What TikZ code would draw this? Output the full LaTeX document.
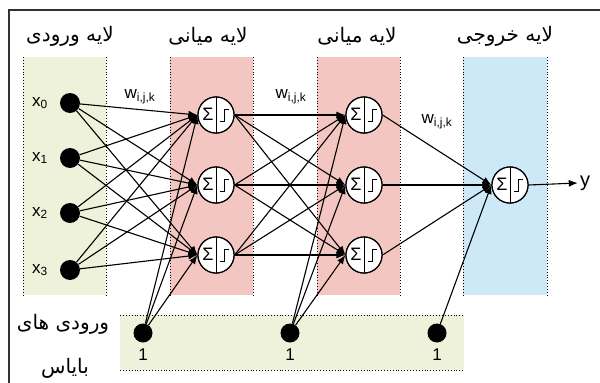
\documentclass[tikz,border=0pt]{standalone}
\usepackage{fontspec}
\setmainfont{Liberation Sans}
\newfontfamily\fa[Script=Arabic]{DejaVu Sans}
\TeXXeTstate=1
\usetikzlibrary{arrows.meta}
\definecolor{ingreen}{RGB}{238,242,218}
\definecolor{hidpink}{RGB}{244,198,194}
\definecolor{outblue}{RGB}{205,232,247}
\definecolor{framegray}{RGB}{50,50,50}
\begin{document}
\begin{tikzpicture}[x=1pt,y=-1pt,
  neuron/.style={circle,draw,fill=white,line width=1.2pt,minimum size=36pt,inner sep=0pt,
    path picture={
      \draw[line width=1pt] (path picture bounding box.north) -- (path picture bounding box.south);
      \node[font=\fontsize{18}{18}\selectfont,inner sep=0pt] at ([xshift=-8pt,yshift=0.5pt]path picture bounding box.center) {Σ};
      \draw[line width=1pt] ([shift={(4,6)}]path picture bounding box.center) -- ++(4,0) -- ++(0,-12) -- ++(4.5,0);
    }},
  dot/.style={circle,fill=black,minimum size=20pt,inner sep=0pt},
  conn/.style={line width=1.1pt,-{Latex[length=9pt,width=7pt]}},
  lbl/.style={font=\fontsize{17}{17}\selectfont,inner sep=1pt},
  title/.style={font=\fa\fontsize{20}{20}\selectfont,inner sep=0pt},
  col/.style={dotted,line width=0.9pt}
]
\useasboundingbox (0,0) rectangle (600,383);
% frame
\draw[framegray,line width=1.8pt] (9,383) -- (9,10) -- (600,10);
% columns
\fill[ingreen] (23,57) rectangle (106,295);
\fill[hidpink] (170,57) rectangle (253,295);
\fill[hidpink] (317,57) rectangle (400,295);
\fill[outblue] (463,57) rectangle (547,295);
\fill[ingreen] (120,315) rectangle (464,370);
\foreach \x in {23,106,170,253,317,400,463,547} \draw[col] (\x,57) -- (\x,295);
\draw[col] (120,315) -- (464,315);
\draw[col] (120,370) -- (464,370);
% titles
\node[title] (t1) at (70,36) {\beginR لایه ورودی\endR};
\node[title] (t2) at (208,36) {\beginR لایه میانی\endR};
\node[title] (t3) at (357,36) {\beginR لایه میانی\endR};
\node[title] (t4) at (505,36) {\beginR لایه خروجی\endR};
\node[title] (bt1) at (63,324) {\beginR ورودی های\endR};
\node[title] (bt2) at (65,368) {\beginR بایاس\endR};
% inputs
\foreach \i/\y in {0/103,1/158,2/213,3/270}{
  \node[dot] (i\i) at (70,\y) {};
  \node[lbl] (xl\i) at (40,\y) {x\textsubscript{\i}};
}
% hidden
\foreach \j/\y in {0/115,1/185,2/255}{
  \node[neuron] (h1\j) at (216,\y) {};
  \node[neuron] (h2\j) at (364,\y) {};
}
\node[neuron] (o) at (510,185) {};
% bias
\foreach \k/\x in {1/143,2/290,3/437}{
  \node[dot,minimum size=19pt] (b\k) at (\x,333) {};
  \node[lbl] (bl\k) at (\x,355) {1};
}
% weights
\node[lbl] (w1) at (140,97) {w\textsubscript{i,j,k}};
\node[lbl] (w2) at (291,97) {w\textsubscript{i,j,k}};
\node[lbl] (w3) at (437,122) {w\textsubscript{i,j,k}};
% connections
\foreach \i in {0,1,2,3}{\foreach \j in {0,1,2}{\draw[conn] (i\i) -- (h1\j.west);}}
\foreach \i in {0,1,2}{\foreach \j in {0,1,2}{\draw[conn] (h1\i.east) -- (h2\j.west);}}
\foreach \i in {0,1,2}{\draw[conn] (h2\i.east) -- (o.west);}
\foreach \j in {0,1,2}{\draw[conn] (b1) -- (h1\j.west); \draw[conn] (b2) -- (h2\j.west);}
\draw[conn] (b3) -- (o.west);
% redraw neurons on top
\foreach \j/\y in {0/115,1/185,2/255}{
  \node[neuron] at (216,\y) {};
  \node[neuron] at (364,\y) {};
}
\node[neuron] at (510,185) {};
% output
\node[font=\fontsize{20}{20}\selectfont,inner sep=2pt] (y) at (585,183) {y};
\draw[conn] (o.east) -- (y.west);
\end{tikzpicture}
\end{document}
